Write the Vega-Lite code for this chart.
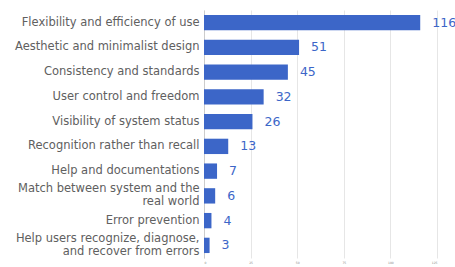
{
  "$schema": "https://vega.github.io/schema/vega-lite/v6.json",
  "autosize": "none",
  "width": 233,
  "height": 248,
  "padding": {"left": 204, "top": 10, "right": 18, "bottom": 9},
  "background": "white",
  "config": {"view": {"stroke": null}, "font": "DejaVu Sans"},
  "data": {"values": [
    {"heuristic": "Flexibility and efficiency of use", "count": 116},
    {"heuristic": "Aesthetic and minimalist design", "count": 51},
    {"heuristic": "Consistency and standards", "count": 45},
    {"heuristic": "User control and freedom", "count": 32},
    {"heuristic": "Visibility of system status", "count": 26},
    {"heuristic": "Recognition rather than recall", "count": 13},
    {"heuristic": "Help and documentations", "count": 7},
    {"heuristic": "Match between system and the\nreal world", "count": 6},
    {"heuristic": "Error prevention", "count": 4},
    {"heuristic": "Help users recognize, diagnose,\nand recover from errors", "count": 3}
  ]},
  "encoding": {
    "y": {"field": "heuristic", "type": "nominal", "sort": null,
      "scale": {"paddingInner": 0.38, "paddingOuter": 0.2},
      "axis": {"title": null, "ticks": false, "labelFontSize": 11.5, "labelColor": "#606060", "labelPadding": 5, "domainColor": "#cccccc",
        "labelExpr": "split(datum.value, '\\n')", "labelLineHeight": 13,
        "labelOffset": {"condition": {"test": "indexof(datum.value, '\\n') >= 0", "value": -6.5}, "value": 0},
        "labelLimit": 220}},
    "x": {"field": "count", "type": "quantitative",
      "scale": {"domain": [0, 125]},
      "axis": {"title": null, "values": [0, 25, 50, 75, 100, 125], "labelFontSize": 3, "labelColor": "#888888", "gridColor": "#e6e6e6", "domain": false, "ticks": false, "labelPadding": 3}}
  },
  "layer": [
    {"mark": {"type": "bar", "color": "#3c66c8"}},
    {"mark": {"type": "text", "align": "left", "dx": 12, "fontSize": 12.5, "color": "#3c66c8"},
     "encoding": {"text": {"field": "count", "type": "quantitative"}}}
  ]
}
